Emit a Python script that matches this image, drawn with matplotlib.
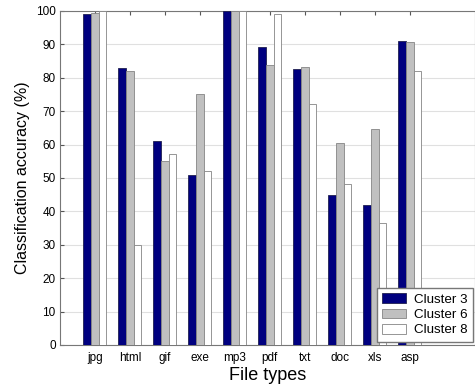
import matplotlib
matplotlib.use('Agg')
import matplotlib.pyplot as plt
import numpy as np

plt.rcParams['font.family'] = ['Liberation Sans', 'DejaVu Sans']

file_types = ['jpg', 'html', 'gif', 'exe', 'mp3', 'pdf', 'txt', 'doc', 'xls', 'asp']
cluster3 = [99, 83, 61, 51, 100, 89.3, 82.6, 45, 42, 91]
cluster6 = [99.3, 82.1, 55.1, 75, 100, 83.7, 83.2, 60.4, 64.6, 90.8]
cluster8 = [100, 29.8, 57.1, 52.1, 100, 99, 72.2, 48.1, 36.6, 82.1]

fig = plt.figure(figsize=(4.75, 3.85), dpi=100)
ax = fig.add_axes([0.126, 0.104, 0.874, 0.8675])

x = np.arange(1, len(file_types) + 1)
w = 0.22
ax.bar(x - w, cluster3, w, color='#00007f', edgecolor='#202050', linewidth=0.6, label='Cluster 3', zorder=3)
ax.bar(x, cluster6, w, color='#c0c0c0', edgecolor='#858585', linewidth=0.6, label='Cluster 6', zorder=3)
ax.bar(x + w, cluster8, w, color='white', edgecolor='#858585', linewidth=0.6, label='Cluster 8', zorder=3)

ax.set_xlim(0, 11.86)
ax.set_ylim(0, 100)
ax.set_xticks(x)
ax.set_xticklabels(file_types, fontsize=8.5)
ax.set_yticks(np.arange(0, 101, 10))
ax.tick_params(axis='y', labelsize=8.5, pad=3)
ax.tick_params(axis='x', pad=5)
ax.tick_params(direction='in', top=True, right=False, length=3, color='#555555')
ax.yaxis.grid(True, color='#e0e0e0', linewidth=0.8, zorder=0)
for s in ax.spines.values():
    s.set_color('#777777')

ax.set_xlabel('File types', fontsize=13, labelpad=2)
ax.set_ylabel('Classification accuracy (%)', fontsize=11.5, labelpad=4)

leg = ax.legend(loc='lower left', bbox_to_anchor=(0.764, 0.01), fontsize=9.6,
                fancybox=False, framealpha=1, borderaxespad=0,
                handlelength=1.75, handleheight=0.75, handletextpad=0.6,
                labelspacing=0.2, borderpad=0.4)
leg.get_frame().set_edgecolor('#777777')

fig.savefig('out.png', dpi=100)
